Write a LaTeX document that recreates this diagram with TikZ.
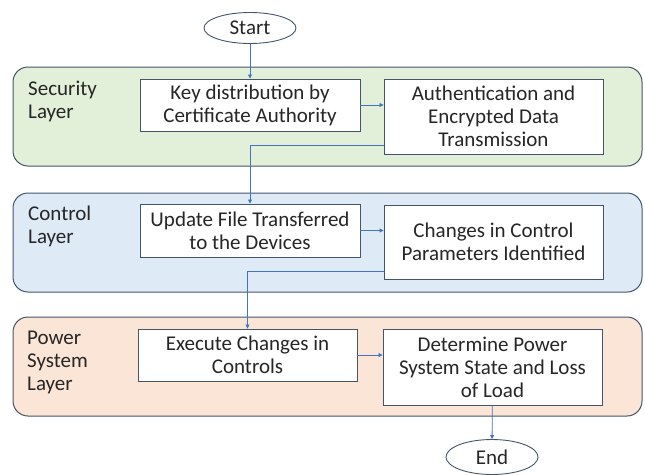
\documentclass[tikz,border=0pt]{standalone}
\usepackage{fontspec}
\setmainfont{Carlito}
\usetikzlibrary{arrows.meta,shapes.geometric}
\definecolor{secfill}{HTML}{E2EFD9}
\definecolor{ctlfill}{HTML}{DEEBF7}
\definecolor{powfill}{HTML}{FBE5D6}
\definecolor{edge}{HTML}{44546A}
\definecolor{flow}{HTML}{4472C4}
\begin{document}
\begin{tikzpicture}[x=1pt,y=-1pt,
  every node/.style={font=\fontsize{21}{23}\selectfont,text=black!85},
  layer/.style={draw=edge,line width=1pt,rounded corners=15pt,minimum width=629pt,minimum height=99pt},
  box/.style={draw=edge,line width=0.9pt,fill=white,align=center,minimum width=219pt,inner sep=0pt},
  term/.style={draw=edge,line width=0.9pt,ellipse,minimum width=92pt,minimum height=31pt,inner sep=0pt},
  lbl/.style={anchor=north west,align=left,inner sep=0pt},
  go/.style={draw=flow,line width=0.8pt,-{Triangle[length=4pt,width=4pt]}}]
\useasboundingbox (0,0) rectangle (645,474);

\node[layer,fill=secfill] (seclayer) at (327.5,116.5) {};
\node[layer,fill=ctlfill] (ctllayer) at (327.5,242.5) {};
\node[layer,fill=powfill] (powlayer) at (327.5,366.5) {};

\node[lbl] (seclbl) at (28,81) {Security\\Layer};
\node[lbl] (ctllbl) at (28,206) {Control\\Layer};
\node[lbl] (powlbl) at (27,331) {Power\\System\\Layer};

\node[term] (start) at (250,28) {Start};
\node[term,minimum height=35pt] (end) at (492,457) {End};

\node[box,minimum width=220pt,minimum height=52pt] (keydist) at (250,105) {Key distribution by\\Certificate Authority};
\node[box,minimum height=75pt] (auth) at (493.5,116.5) {Authentication and\\Encrypted Data\\Transmission};
\node[box,minimum width=220pt,minimum height=53pt] (update) at (250,230.5) {Update File Transferred\\to the Devices};
\node[box,minimum height=74pt] (changes) at (493.5,242) {Changes in Control\\Parameters Identified};
\node[box,minimum height=52pt] (execute) at (247.5,355) {Execute Changes in\\Controls};
\node[box,minimum height=76pt] (state) at (492.5,367) {Determine Power\\System State and Loss\\of Load};

\draw[go] (start) -- (keydist);
\draw[go] (keydist.east) -- (keydist.east -| auth.west);
\draw[go] ([yshift=9pt]auth.south west) -| (update.north);
\draw[go] (update.east) -- (update.east -| changes.west);
\draw[go] ([yshift=8pt]changes.south west) -| (execute.north);
\draw[go] (execute.east) -- (execute.east -| state.west);
\draw[go] (state) -- (end);
\end{tikzpicture}
\end{document}
